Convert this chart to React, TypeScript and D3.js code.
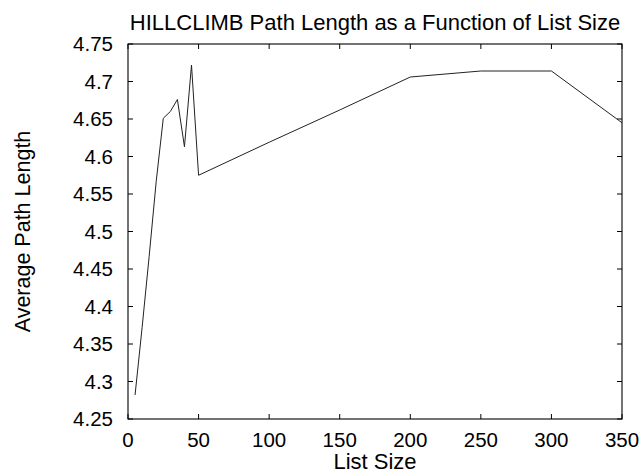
import React, { useEffect, useRef } from "react";
import * as d3 from "d3";

const listSizes = [5, 10, 15, 20, 25, 30, 35, 40, 45, 50, 100, 150, 200, 250, 300, 350];
const pathLengths = [4.282, 4.372, 4.467, 4.567, 4.651, 4.66, 4.676, 4.613, 4.722, 4.575, 4.619, 4.662, 4.706, 4.714, 4.714, 4.645];
const xTicks = [0, 50, 100, 150, 200, 250, 300, 350];
const yTicks = [4.25, 4.3, 4.35, 4.4, 4.45, 4.5, 4.55, 4.6, 4.65, 4.7, 4.75];
const yTickLabels = ["4.25", "4.3", "4.35", "4.4", "4.45", "4.5", "4.55", "4.6", "4.65", "4.7", "4.75"];
const title = "HILLCLIMB Path Length as a Function of List Size";
const xTitle = "List Size";
const yTitle = "Average Path Length";

const W = 642, H = 474;
const L = 128, R = 622, T = 44, B = 419;
const FONT = "'Liberation Sans', Arial, Helvetica, sans-serif";

export default function App() {
  const ref = useRef<SVGSVGElement>(null);
  useEffect(() => {
    const svg = d3.select(ref.current);
    svg.selectAll("*").remove();
    const x = d3.scaleLinear().domain([0, 350]).range([L, R]);
    const y = d3.scaleLinear().domain([4.25, 4.75]).range([B, T]);

    svg.append("rect").attr("width", W).attr("height", H).attr("fill", "#fff");

    svg.append("rect").attr("x", L).attr("y", T).attr("width", R - L).attr("height", B - T)
      .attr("fill", "none").attr("stroke", "#000").attr("stroke-width", 1.1);

    const tl = 5;
    const g = svg.append("g").attr("stroke", "#000").attr("stroke-width", 1);
    xTicks.forEach((v) => {
      const px = x(v);
      g.append("line").attr("x1", px).attr("x2", px).attr("y1", B).attr("y2", B - tl);
      g.append("line").attr("x1", px).attr("x2", px).attr("y1", T).attr("y2", T + tl);
    });
    yTicks.forEach((v) => {
      const py = y(v);
      g.append("line").attr("x1", L).attr("x2", L + tl).attr("y1", py).attr("y2", py);
      g.append("line").attr("x1", R).attr("x2", R - tl).attr("y1", py).attr("y2", py);
    });

    const txt = svg.append("g").attr("font-family", FONT).attr("font-size", 20.5).attr("fill", "#000");
    xTicks.forEach((v) => {
      txt.append("text").attr("x", x(v)).attr("y", 447).attr("text-anchor", "middle").text(String(v));
    });
    yTicks.forEach((v, i) => {
      txt.append("text").attr("x", 113).attr("y", y(v)).attr("dy", "0.36em")
        .attr("text-anchor", "end").text(yTickLabels[i]);
    });
    txt.append("text").attr("x", (L + R) / 2).attr("y", 30).attr("text-anchor", "middle")
      .attr("font-size", 22).text(title);
    txt.append("text").attr("x", (L + R) / 2).attr("y", 469).attr("text-anchor", "middle")
      .attr("font-size", 22).text(xTitle);
    txt.append("text").attr("transform", `translate(30,${(T + B) / 2}) rotate(-90)`)
      .attr("text-anchor", "middle").attr("font-size", 21.5).text(yTitle);

    const line = d3.line<number>().x((d, i) => x(listSizes[i])).y((d) => y(d));
    svg.append("path").datum(pathLengths).attr("d", line as any)
      .attr("fill", "none").attr("stroke", "#222").attr("stroke-width", 1);
  }, []);
  return (
    <svg ref={ref} width={W} height={H}
      style={{ position: "absolute", left: 0, top: 0, display: "block" }} />
  );
}
